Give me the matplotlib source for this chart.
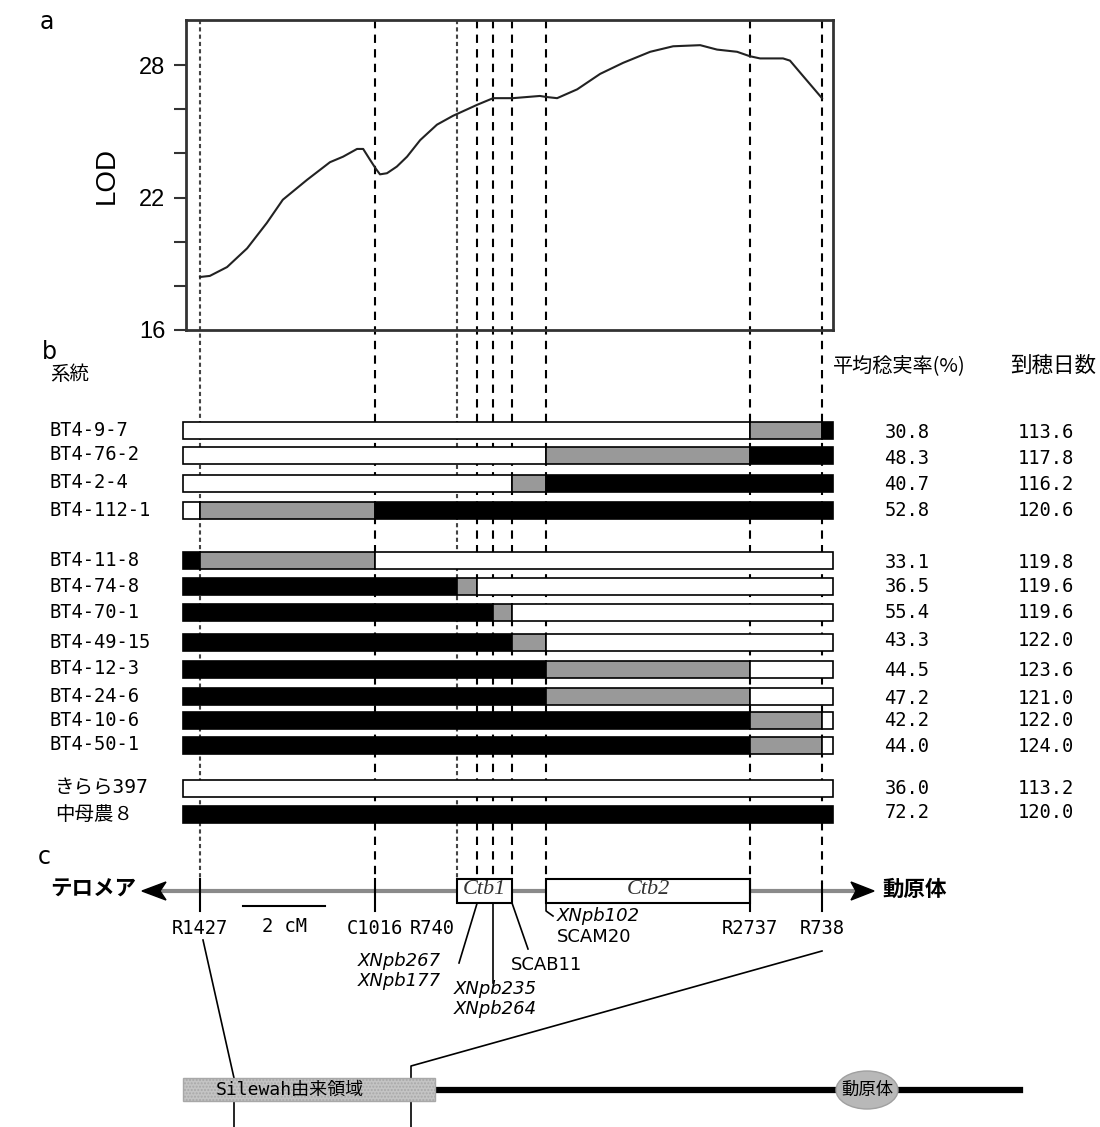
import numpy as np
import matplotlib.pyplot as plt
from matplotlib.patches import Rectangle, Ellipse, Polygon

plt.rcParams['font.family'] = ['DejaVu Sans Mono', 'Noto Sans CJK JP']

# marker positions on the map (cM from R1427)
markers = ['R1427', 'C1016', 'R740', 'XNpb267', 'XNpb235', 'SCAB11', 'XNpb102', 'R2737', 'R738']
marker_cm = [0.0, 4.27, 6.27, 6.76, 7.15, 7.61, 8.44, 13.41, 15.17]
bar_start, bar_end = -0.41, 15.44

# LOD curve
lod_cm = [0.0, 0.24, 0.66, 1.15, 1.63, 2.02, 2.61, 3.17, 3.49, 3.83, 3.98, 4.15, 4.29,
          4.39, 4.56, 4.80, 5.05, 5.37, 5.78, 6.17, 6.76, 7.15, 7.63, 8.29, 8.46, 8.71,
          9.20, 9.76, 10.32, 10.98, 11.54, 12.20, 12.61, 13.10, 13.41, 13.66, 14.22,
          14.39, 14.71, 15.17]
lod = [18.4, 18.45, 18.85, 19.7, 20.85, 21.9, 22.8, 23.6, 23.85, 24.2, 24.2, 23.7, 23.3,
       23.05, 23.1, 23.4, 23.85, 24.6, 25.3, 25.7, 26.2, 26.5, 26.5, 26.6, 26.55, 26.5,
       26.9, 27.6, 28.1, 28.6, 28.85, 28.9, 28.7, 28.6, 28.4, 28.3, 28.3, 28.2, 27.5, 26.5]

# genotypes: breakpoints (marker names) and segment colours w=white g=grey b=black
lines = ['BT4-9-7', 'BT4-76-2', 'BT4-2-4', 'BT4-112-1', 'BT4-11-8', 'BT4-74-8', 'BT4-70-1',
         'BT4-49-15', 'BT4-12-3', 'BT4-24-6', 'BT4-10-6', 'BT4-50-1', 'きらら397', '中母農８']
breaks = [['R2737', 'R738'], ['XNpb102', 'R2737'], ['SCAB11', 'XNpb102'], ['R1427', 'C1016'],
          ['R1427', 'C1016'], ['R740', 'XNpb267'], ['XNpb235', 'SCAB11'], ['SCAB11', 'XNpb102'],
          ['XNpb102', 'R2737'], ['XNpb102', 'R2737'], ['R2737', 'R738'], ['R2737', 'R738'],
          [], []]
geno = ['wgb', 'wgb', 'wgb', 'wgb', 'bgw', 'bgw', 'bgw', 'bgw', 'bgw', 'bgw', 'bgw', 'bgw', 'w', 'b']
fertility = ['30.8', '48.3', '40.7', '52.8', '33.1', '36.5', '55.4', '43.3', '44.5', '47.2',
             '42.2', '44.0', '36.0', '72.2']
heading = ['113.6', '117.8', '116.2', '120.6', '119.8', '119.6', '119.6', '122.0', '123.6',
           '121.0', '122.0', '124.0', '113.2', '120.0']

# layout
row_y = [430, 455, 483, 510, 560, 586, 612, 642, 669, 696, 720, 745, 788, 814]
val_y = [432, 458, 485, 511, 562, 586, 612, 640, 670, 698, 720, 747, 789, 813]
pos = dict(zip(markers, marker_cm))
px = lambda x: (x - 200) / 41.0
cmap = {'w': 'white', 'g': '#999999', 'b': 'black'}

fig = plt.figure(figsize=(11, 11.27), dpi=100)
ax = fig.add_axes([0, 0, 1, 1])
ax.set_xlim(px(0), px(1100))
ax.set_ylim(1127, 0)
ax.axis('off')

# vertical dashed marker lines
for m, x in zip(markers, marker_cm):
    y1 = 884 if m == 'R738' else 879
    if m in ('R1427', 'R740'):
        ax.plot([x, x], [20, y1], color='#444', lw=1.5, ls=(0, (2, 1.5)), zorder=1)
    else:
        ax.plot([x, x], [20, y1], color='black', lw=1.5, ls=(0, (4, 3)), zorder=1)

# LOD panel
ax_lod = fig.add_axes([186 / 1100, 1 - 330 / 1127, (833 - 186) / 1100, 310 / 1127])
ax_lod.set_facecolor('none')
ax_lod.plot(lod_cm, lod, color='#222', lw=1.5)
ax_lod.set_xlim(px(186), px(833))
ax_lod.set_ylim(16, 30.04)
ax_lod.set_xticks([])
ax_lod.set_yticks([16, 22, 28])
ax_lod.set_yticks([18, 20, 24, 26], minor=True)
ax_lod.tick_params(axis='y', which='both', direction='out', length=9, width=1.5, color='#333',
                   pad=6)
for t in ax_lod.get_yticklabels():
    t.set_family('Liberation Sans')
    t.set_fontsize(17)
ax_lod.set_ylabel('LOD', family='Liberation Sans', fontsize=20, labelpad=14)
for s in ax_lod.spines.values():
    s.set_linewidth(2)
    s.set_color('#333')

# panel letters
for lab, x, y in [('a', 40, 22), ('b', 42, 352), ('c', 38, 857)]:
    ax.text(px(x), y, lab, family='DejaVu Sans', fontsize=17, va='center')

# genotype bars
ax.text(px(50), 374, '系統', fontsize=14, va='center', family='Noto Sans CJK JP')
ax.text(px(833), 366, '平均稔実率(%)', fontsize=14.5, va='center', family='Noto Sans CJK JP')
ax.text(px(1010), 366, '到穂日数', fontsize=15.5, va='center', family='Noto Sans CJK JP')
for i, name in enumerate(lines):
    edges = [bar_start] + [pos[b] for b in breaks[i]] + [bar_end]
    for j, c in enumerate(geno[i]):
        ax.barh(row_y[i], edges[j + 1] - edges[j], left=edges[j], height=17,
                color=cmap[c], edgecolor='black', lw=1.2, zorder=3)
    lx = 55 if i >= 12 else 50
    fs = 14 if i >= 12 else 13.5
    ax.text(px(lx), row_y[i], name, fontsize=fs, va='center')
    ax.text(px(907), val_y[i], fertility[i], fontsize=13.5, va='center', ha='center')
    ax.text(px(1046), val_y[i], heading[i], fontsize=13.5, va='center', ha='center')

# map (panel c)
ax.plot([px(160), px(856)], [891, 891], color='#8a8a8a', lw=3, zorder=2)
ax.add_patch(Polygon([(px(142), 891), (px(166), 882), (px(160), 891), (px(166), 900)],
                     closed=True, color='black', zorder=3))
ax.add_patch(Polygon([(px(874), 891), (px(851), 882), (px(856), 891), (px(851), 900)],
                     closed=True, color='black', zorder=3))
ax.text(px(136), 889, 'テロメア', family='Noto Sans CJK JP', fontsize=15.5, weight='bold',
        ha='right', va='center')
ax.text(px(882), 889, '動原体', family='Noto Sans CJK JP', fontsize=15.5, weight='bold',
        ha='left', va='center')

for a, b, lab in [('R740', 'SCAB11', 'Ctb1'), ('XNpb102', 'R2737', 'Ctb2')]:
    ax.add_patch(Rectangle((pos[a], 879), pos[b] - pos[a], 24, fc='white', ec='black',
                           lw=1.5, zorder=4))
    ax.text((pos[a] + pos[b]) / 2, 890, lab, family='Liberation Serif', style='italic',
            fontsize=16, ha='center', va='center', color='#333', zorder=5)

for m in ['R1427', 'C1016', 'R2737']:
    ax.plot([pos[m], pos[m]], [879, 911], color='black', lw=1.5, zorder=5)
ax.plot([pos['R738'], pos['R738']], [884, 911], color='black', lw=1.5, zorder=5)
for m in ['R1427', 'C1016', 'R2737', 'R738']:
    ax.text(pos[m], 928, m, fontsize=13.5, ha='center', va='center')
ax.text(pos['R740'] - px(202), 928, 'R740', fontsize=13.5, ha='right', va='center')

# 2 cM scale bar
ax.plot([px(243), px(243) + 2], [906, 906], color='black', lw=1.5)
ax.text(px(243) + 1, 926, '2 cM', fontsize=13.5, ha='center', va='center')

# leaders for marker clusters
x267, x235, x11, x102 = pos['XNpb267'], pos['XNpb235'], pos['SCAB11'], pos['XNpb102']
ax.plot([x267, px(459)], [903, 963], color='black', lw=1.2)
ax.plot([x235, x235], [903, 983], color='black', lw=1.2)
ax.plot([x11, px(528)], [903, 949], color='black', lw=1.2)
ax.plot([x102, x102, px(553)], [903, 911, 916], color='black', lw=1.2)
it = dict(family='DejaVu Sans', style='italic', fontsize=13, va='center')
ax.text(px(441), 961, 'XNpb267', ha='right', **it)
ax.text(px(441), 981, 'XNpb177', ha='right', **it)
ax.text(px(495), 989, 'XNpb235', ha='center', **it)
ax.text(px(495), 1009, 'XNpb264', ha='center', **it)
ax.text(px(557), 916, 'XNpb102', ha='left', **it)
ax.text(px(557), 937, 'SCAM20', family='DejaVu Sans', fontsize=13, ha='left', va='center')
ax.text(px(547), 965, 'SCAB11', family='DejaVu Sans', fontsize=13, ha='center', va='center')

# chromosome overview
ax.plot([px(203), px(234), px(234)], [940, 1078, 1127], color='black', lw=1.2, zorder=1)
ax.plot([px(822), px(411), px(411)], [951, 1066, 1127], color='black', lw=1.2, zorder=1)
ax.plot([px(435), px(1020)], [1090, 1090], color='black', lw=4.5, zorder=2)
ax.add_patch(Rectangle((px(183), 1078), px(435) - px(183), 23, fc='#c4c4c4', ec='#a8a8a8',
                       hatch='.....', lw=1, zorder=3))
ax.text(px(290), 1090, 'Silewah由来領域', fontsize=13, ha='center', va='center', zorder=4)
ax.add_patch(Ellipse((px(867), 1090), 62 / 41.0, 38, fc='#b8b8b8', ec='#a0a0a0', lw=1, zorder=3))
ax.text(px(867), 1090, '動原体', family='Noto Sans CJK JP', fontsize=12.5, ha='center',
        va='center', zorder=4)

fig.savefig('out.png', dpi=100)
